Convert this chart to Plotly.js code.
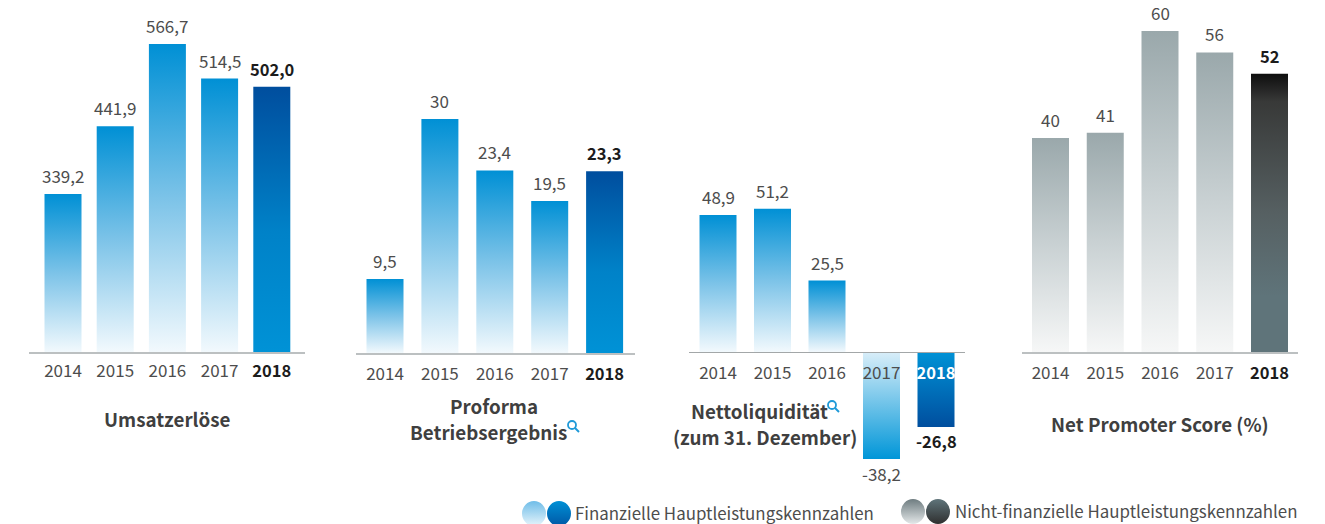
<!DOCTYPE html>
<html lang="de">
<head>
<meta charset="utf-8">
<script src="https://cdn.plot.ly/plotly-3.0.1.min.js"></script>
<style>html,body{margin:0;padding:0;background:#fff;overflow:hidden}#chart{width:1325px;height:524px}</style>
</head>
<body>
<div id="chart"></div>
<script>
// ---------- data ----------
const years = ['2014', '2015', '2016', '2017', '2018'];
const umsatz = [339.2, 441.9, 566.7, 514.5, 502.0];
const umsatzLabels = ['339,2', '441,9', '566,7', '514,5', '502,0'];
const proforma = [9.5, 30, 23.4, 19.5, 23.3];
const proformaLabels = ['9,5', '30', '23,4', '19,5', '23,3'];
const netto = [48.9, 51.2, 25.5, -38.2, -26.8];
const nettoLabels = ['48,9', '51,2', '25,5', '-38,2', '-26,8'];
const nps = [40, 41, 60, 56, 52];
const npsLabels = ['40', '41', '60', '56', '52'];

// ---------- styling ----------
const W = 1325, H = 524;
const FONT = '"Noto Sans CJK SC", "Noto Sans", sans-serif';
const TXT = '#4d4d4d', DARK = '#1c1c1c';
const fx = px => px / W, fy = px => 1 - px / H;

const GRADS = {
  blue:    [[0, '#0090d5'], [0.5, '#7cc3e8'], [1, '#f2f9fd']],
  blueD:   [[0, '#004e9e'], [0.55, '#0082c8'], [1, '#0092d6']],
  blueN:   [[0, '#d9eef9'], [1, '#0096d8']],
  blueDN:  [[0, '#0092d6'], [1, '#004e9e']],
  grey:    [[0, '#9aa8ab'], [0.5, '#c9d1d3'], [1, '#f6f7f7']],
  greyD:   [[0, '#0e0e0e'], [0.1, '#383938'], [0.5, '#566062'], [0.8, '#5f747a'], [1, '#5f747a']],
  lgBlue:  [[0, '#6fbde8'], [1, '#e6f4fb']],
  lgBlueD: [[0, '#0090d5'], [1, '#0058a6']],
  lgGrey:  [[0, '#6e7c80'], [1, '#e4e8e9']],
  lgGreyD: [[0, '#5f747a'], [1, '#2f2f2f']]
};

const panels = [
  {vals: umsatz, labels: umsatzLabels, base: 99.5, k: 0.659, axisY: 352, bottom: 352,
   left: 29, right: 305, c0: 63, step: 52.2, standoff: 3, lineColor: '#bcc0c1', lineW: 1.5, lift: 4,
   grads: ['blue', 'blue', 'blue', 'blue', 'blueD']},
  {vals: proforma, labels: proformaLabels, base: 0, k: 7.8, axisY: 353, bottom: 353,
   left: 356, right: 635, c0: 385, step: 54.9, standoff: 5, lineColor: '#bcc0c1', lineW: 1.5, lift: 4,
   grads: ['blue', 'blue', 'blue', 'blue', 'blueD']},
  {vals: netto, labels: nettoLabels, base: 0, k: 2.8, axisY: 352, bottom: 500,
   left: 689, right: 965, c0: 718, step: 54.5, standoff: 6, lineColor: '#a3a7a8', lineW: 1, lift: 4,
   grads: ['blue', 'blue', 'blue', 'blueN', 'blueDN']},
  {vals: nps, labels: npsLabels, base: 0, k: 5.35, axisY: 352, bottom: 352,
   left: 1022, right: 1298, c0: 1050.5, step: 54.75, standoff: 5, lineColor: '#bcc0c1', lineW: 1.5, lift: 4,
   grads: ['grey', 'grey', 'grey', 'grey', 'greyD']}
];

const data = [], annotations = [], layout = {
  width: W, height: H, margin: {l: 0, r: 0, t: 0, b: 0, pad: 0},
  paper_bgcolor: '#fff', plot_bgcolor: 'rgba(0,0,0,0)', showlegend: false,
  font: {family: FONT, size: 17, color: TXT}, bargap: 0.31
};

panels.forEach((p, i) => {
  const n = i ? String(i + 1) : '';
  data.push({
    type: 'bar', x: years, y: p.vals, xaxis: 'x' + n, yaxis: 'y' + n,
    marker: {color: p.grads.map(g => GRADS[g][0][1]), line: {width: 0}},
    hoverinfo: 'skip', width: 37 / p.step, cliponaxis: true
  });
  const ticktext = years.map((y, j) => {
    if (j < 4) return y;
    return i === 2 ? '<span style="color:#ffffff;font-size:16.5px"><b>' + y + '</b></span>'
                   : '<span style="color:' + DARK + ';font-size:16.5px"><b>' + y + '</b></span>';
  });
  layout['xaxis' + n] = {
    type: 'category', domain: [fx(p.left), fx(p.right)],
    range: [(p.left - p.c0) / p.step, (p.right - p.c0) / p.step],
    anchor: 'free', position: fy(p.axisY), side: 'bottom',
    tickmode: 'array', tickvals: years, ticktext: ticktext,
    ticks: 'outside', ticklen: p.standoff, tickcolor: 'rgba(0,0,0,0)', tickwidth: 1,
    tickfont: {family: FONT, size: 17, color: TXT}, tickangle: 0,
    showline: true, linecolor: p.lineColor, linewidth: p.lineW,
    showgrid: false, zeroline: false, fixedrange: true, layer: 'above traces'
  };
  layout['yaxis' + n] = {
    domain: [fy(p.bottom), 1],
    range: [p.base + (p.axisY - p.bottom) / p.k, p.base + p.axisY / p.k],
    anchor: 'x' + n, visible: false, showgrid: false, zeroline: false, fixedrange: true
  };
  p.labels.forEach((t, j) => {
    const neg = p.vals[j] < 0, bold = j === 4;
    annotations.push({
      // numeric-looking category names must be addressed by their index here
      x: j, y: p.vals[j], xref: 'x' + n, yref: 'y' + n,
      text: bold ? '<b>' + t + '</b>' : t, showarrow: false,
      xanchor: 'center', yanchor: neg ? 'top' : 'bottom',
      yshift: neg ? 0 : p.lift,
      font: {family: FONT, size: bold ? 16.5 : 17, color: bold ? DARK : TXT}
    });
  });
});

// titles and legend text
const titleFont = {family: FONT, size: 18.8, color: '#3f3f3f'};
[
  ['Umsatzerlöse', 167, 418], ['Proforma', 494, 405], ['Betriebsergebnis', 488, 431],
  ['Nettoliquidität', 759, 410], ['(zum 31. Dezember)', 765, 436], ['Net Promoter Score (%)', 1160, 423]
].forEach(([t, x, y]) => annotations.push({
  xref: 'paper', yref: 'paper', x: fx(x), y: fy(y), text: '<b>' + t + '</b>', showarrow: false,
  xanchor: 'center', yanchor: 'middle', font: titleFont
}));
[['Finanzielle Hauptleistungskennzahlen', 573, 512], ['Nicht-finanzielle Hauptleistungskennzahlen', 953, 510]]
  .forEach(([t, x, y]) => annotations.push({
    xref: 'paper', yref: 'paper', x: fx(x), y: fy(y), text: t, showarrow: false,
    xanchor: 'left', yanchor: 'middle', font: {family: FONT, size: 16.9, color: TXT}
  }));
layout.annotations = annotations;

// legend discs and the small magnifier marks
const circle = (x0, y0, x1, y1, fill) => ({type: 'circle', xref: 'paper', yref: 'paper',
  x0: fx(x0), x1: fx(x1), y0: fy(y1), y1: fy(y0), fillcolor: fill, line: {width: 0}, layer: 'above'});
const legendDiscs = [
  [522, 501, 546, 526, 'lgBlue'], [547, 501, 571, 526, 'lgBlueD'],
  [901, 499, 925, 524, 'lgGrey'], [926, 499, 950, 524, 'lgGreyD']
];
const shapes = legendDiscs.map(d => circle(d[0], d[1], d[2], d[3], GRADS[d[4]][0][1]));
[[568, 421], [828, 401]].forEach(([x, y]) => {
  shapes.push({type: 'circle', xref: 'paper', yref: 'paper', x0: fx(x), x1: fx(x + 8), y0: fy(y + 8), y1: fy(y),
    fillcolor: 'rgba(0,0,0,0)', line: {color: '#1f9ad8', width: 1.8}, layer: 'above'});
  shapes.push({type: 'line', xref: 'paper', yref: 'paper', x0: fx(x + 7), x1: fx(x + 11), y0: fy(y + 7), y1: fy(y + 11),
    line: {color: '#1f9ad8', width: 2}, layer: 'above'});
});
layout.shapes = shapes;

const NS = 'http://www.w3.org/2000/svg';
function addGradient(defs, id, stops, y1, y2) {
  const g = document.createElementNS(NS, 'linearGradient');
  g.setAttribute('id', id);
  if (y1 === undefined) {
    g.setAttribute('x1', '0'); g.setAttribute('y1', '0');
    g.setAttribute('x2', '0'); g.setAttribute('y2', '1');
  } else {
    g.setAttribute('gradientUnits', 'userSpaceOnUse');
    g.setAttribute('x1', '0'); g.setAttribute('y1', y1);
    g.setAttribute('x2', '0'); g.setAttribute('y2', y2);
  }
  stops.forEach(([o, c]) => {
    const s = document.createElementNS(NS, 'stop');
    s.setAttribute('offset', o); s.setAttribute('stop-color', c);
    g.appendChild(s);
  });
  defs.appendChild(g);
}

function applyGradients(gd) {
  const svg = gd.querySelector('.main-svg');
  const defs = document.createElementNS(NS, 'defs');
  svg.insertBefore(defs, svg.firstChild);
  gd.querySelectorAll('.barlayer .trace.bars').forEach((tr, i) => {
    const p = panels[i];
    tr.querySelectorAll('.point path').forEach((path, j) => {
      // the gradient spans only the visible part of the bar (the first panel's axis starts above zero)
      const b = path.getBBox();
      const id = 'bar-' + i + '-' + j;
      addGradient(defs, id, GRADS[p.grads[j]], b.y, Math.min(b.y + b.height, p.bottom));
      path.style.fill = 'url(#' + id + ')';
    });
  });
  legendDiscs.forEach(d => addGradient(defs, 'disc-' + d[4], GRADS[d[4]]));
  const shapePaths = gd.querySelectorAll('.shapelayer path');
  legendDiscs.forEach((d, i) => {
    if (shapePaths[i]) shapePaths[i].style.fill = 'url(#disc-' + d[4] + ')';
  });
}

const gd = document.getElementById('chart');
Plotly.newPlot(gd, data, layout, {staticPlot: true, displayModeBar: false, responsive: false})
  .then(() => applyGradients(gd));
</script>
</body>
</html>
